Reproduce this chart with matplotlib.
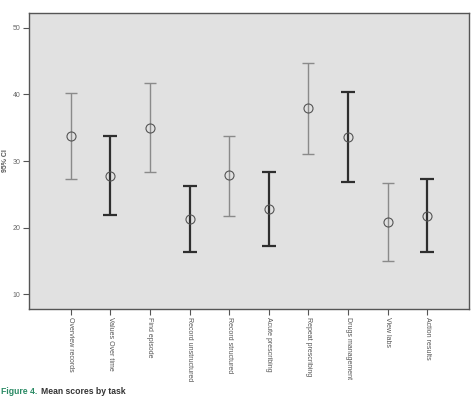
import matplotlib
matplotlib.use('Agg')
import matplotlib.pyplot as plt

tasks = ['Overview records', 'Values Over time', 'Find episode', 'Record unstructured',
         'Record structured', 'Acute prescribing', 'Repeat prescribing', 'Drugs management',
         'View labs', 'Action results']
means = [33.8, 27.8, 35.0, 21.3, 27.9, 22.8, 37.9, 33.6, 20.8, 21.8]
ci_low = [27.3, 21.9, 28.3, 16.3, 21.8, 17.2, 31.1, 26.9, 15.0, 16.3]
ci_high = [40.2, 33.7, 41.8, 26.3, 33.8, 28.4, 44.7, 40.3, 26.7, 27.3]
yticks = [10, 20, 30, 40, 50]

plt.rcParams['font.family'] = ['Liberation Sans', 'DejaVu Sans']

fig = plt.figure(figsize=(4.71, 4.09), dpi=100)
ax = fig.add_axes([29 / 471, 1 - 309 / 409, 440 / 471, 296 / 409])
ax.set_facecolor('#e1e1e1')

for i, (m, lo, hi) in enumerate(zip(means, ci_low, ci_high)):
    x = i + 1
    # alternating light/dark bars as in the source figure
    if i % 2 == 0:
        c, lw, cap = '#8a8a8a', 1.0, 4
    else:
        c, lw, cap = '#2e2e2e', 1.6, 5
    ax.errorbar([x], [m], yerr=[[m - lo], [hi - m]], fmt='none', ecolor=c,
                elinewidth=lw, capsize=cap, capthick=lw)
    ax.plot([x], [m], marker='o', markersize=6.5, markerfacecolor='none',
            markeredgecolor='#555555', markeredgewidth=0.8, linestyle='none')

ax.set_xlim(-0.05, 11.05)
ax.set_ylim(7.75, 52.25)
ax.set_yticks(yticks)
ax.set_yticklabels([str(t) for t in yticks], fontsize=5, color='#666666')
ax.set_xticks(range(1, len(tasks) + 1))
ax.set_xticklabels(tasks, rotation=-90, fontsize=5, color='#555555', va='top')
ax.tick_params(axis='both', length=4, width=0.8, color='#555555', pad=2)
for s in ax.spines.values():
    s.set_color('#555555')
    s.set_linewidth(1.0)

ax.set_ylabel('95% CI', fontsize=5, fontweight='bold', color='#555555')
ax.yaxis.set_label_coords(-20 / 440, 0.5)

# caption: green figure number, title placed right after it
fig_lbl = fig.text(1 / 471, 1 - 391 / 409, 'Figure 4.', ha='left', va='center',
                   fontsize=6.2, fontweight='bold', color='#2a8a64')
ax.annotate('Mean scores by task', xy=(1, 0.5), xycoords=fig_lbl,
            xytext=(2.5, 0), textcoords='offset points', ha='left', va='center',
            fontsize=6.2, fontweight='bold', color='#333333', annotation_clip=False)

fig.savefig('out.png', dpi=100)
